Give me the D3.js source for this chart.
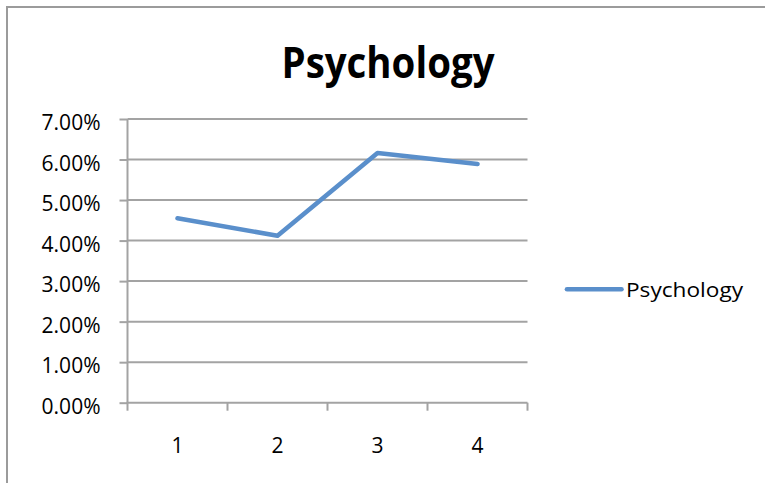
<!DOCTYPE html>
<html>
<head>
<meta charset="utf-8">
<script src="https://cdn.jsdelivr.net/npm/d3@7"></script>
<style>
  html, body { margin: 0; padding: 0; background: #fff; }
  svg { display: block; }
  text { font-family: "Open Sans", "Liberation Sans", sans-serif; fill: #000; }
</style>
</head>
<body>
<svg id="chart" width="765" height="483"></svg>
<script>
const title = "Psychology";
const categories = ["1", "2", "3", "4"];
const seriesName = "Psychology";
const values = [0.0455, 0.0412, 0.0616, 0.0589];
const yTicks = [0, 0.01, 0.02, 0.03, 0.04, 0.05, 0.06, 0.07];

const svg = d3.select("#chart");
const plot = { left: 127.5, right: 527.5, top: 119, bottom: 402.7 };
const gridColor = "#A3A3A3";
const lineColor = "#5A8FCB";
const labelSize = 21;

// chart border
svg.append("rect")
  .attr("x", 7).attr("y", 7)
  .attr("width", 900).attr("height", 900)
  .attr("fill", "none").attr("stroke", "#9B9B9B").attr("stroke-width", 2);

const x = d3.scaleBand().domain(categories).range([plot.left, plot.right]).padding(0);
const y = d3.scaleLinear().domain([0, 0.07]).range([plot.bottom, plot.top]);

// gridlines
svg.append("g").selectAll("line").data(yTicks.filter(d => d > 0)).join("line")
  .attr("x1", plot.left).attr("x2", plot.right)
  .attr("y1", d => y(d)).attr("y2", d => y(d))
  .attr("stroke", gridColor).attr("stroke-width", 2);

// y axis
const yAxis = svg.append("g")
  .attr("transform", `translate(${plot.left},0)`)
  .call(d3.axisLeft(y).tickValues(yTicks).tickFormat(d3.format(".2%")).tickSize(8).tickPadding(19));
yAxis.attr("font-size", labelSize).attr("font-family", "'Open Sans', sans-serif");
yAxis.select(".domain").attr("stroke", gridColor).attr("stroke-width", 2)
  .attr("d", `M0,${plot.top}V${plot.bottom}`);
yAxis.selectAll(".tick line").attr("stroke", gridColor).attr("stroke-width", 2);
yAxis.selectAll(".tick text")
  .attr("font-size", labelSize)
  .style("font-size", labelSize + "px")
  .attr("fill", "#000").attr("dy", "0.5em");

// x axis
const xg = svg.append("g").attr("font-size", labelSize);
xg.append("line")
  .attr("x1", plot.left - 1).attr("x2", plot.right)
  .attr("y1", plot.bottom).attr("y2", plot.bottom)
  .attr("stroke", gridColor).attr("stroke-width", 2);
const edges = categories.map(c => x(c)).concat([x.range()[1]]);
xg.selectAll("line.tick").data(edges).join("line").attr("class", "tick")
  .attr("x1", d => d).attr("x2", d => d)
  .attr("y1", plot.bottom).attr("y2", plot.bottom + 8)
  .attr("stroke", gridColor).attr("stroke-width", 2);
xg.selectAll("text").data(categories).join("text")
  .attr("x", d => x(d) + x.bandwidth() / 2)
  .attr("y", 453.3)
  .attr("text-anchor", "middle")
  .attr("font-size", labelSize)
  .style("font-size", labelSize + "px")
  .text(d => d);

// series line
const line = d3.line()
  .x((d, i) => x(categories[i]) + x.bandwidth() / 2)
  .y(d => y(d));
svg.append("path")
  .datum(values)
  .attr("d", line)
  .attr("fill", "none")
  .attr("stroke", lineColor)
  .attr("stroke-width", 4.6)
  .attr("stroke-linecap", "round")
  .attr("stroke-linejoin", "round");

// title
svg.append("text")
  .attr("x", 388).attr("y", 78.3)
  .attr("text-anchor", "middle")
  .style("font-size", "43px").style("font-weight", "bold")
  .attr("textLength", 213).attr("lengthAdjust", "spacingAndGlyphs")
  .text(title);

// legend
const lg = svg.append("g");
lg.append("line")
  .attr("x1", 567).attr("x2", 621.5)
  .attr("y1", 289.3).attr("y2", 289.3)
  .attr("stroke", lineColor).attr("stroke-width", 4.6)
  .attr("stroke-linecap", "round");
lg.append("text")
  .attr("x", 626).attr("y", 296.7)
  .style("font-size", "20px")
  .attr("textLength", 117).attr("lengthAdjust", "spacingAndGlyphs")
  .text(seriesName);
</script>
</body>
</html>
